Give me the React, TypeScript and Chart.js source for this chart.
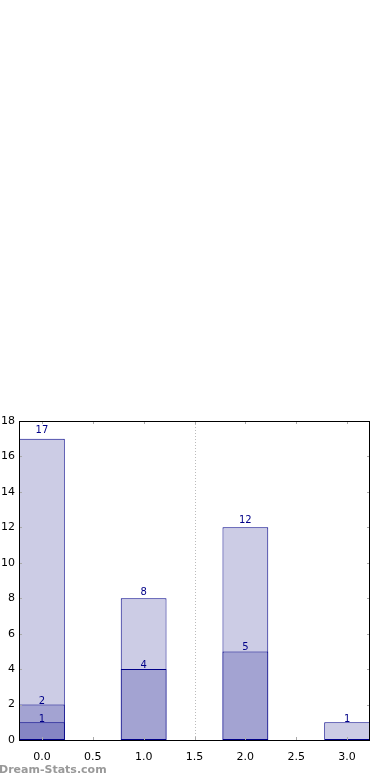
import React, { useEffect, useRef } from "react";
import { Chart, registerables } from "chart.js";

Chart.register(...registerables);

const categories = [0, 1, 2, 3];
const totalValues = [17, 8, 12, 1];
const midValues = [2, 4, 5, null];
const lowValues = [1, null, null, null];
const xTicks = [0, 0.5, 1, 1.5, 2, 2.5, 3];
const yTicks = [0, 2, 4, 6, 8, 10, 12, 14, 16, 18];
const dividerAt = 1.5;

const toPoints = (vals: (number | null)[]) =>
  categories
    .map((c, i) => ({ x: c, y: vals[i] }))
    .filter((p) => p.y !== null) as { x: number; y: number }[];

export default function App() {
  const ref = useRef<HTMLCanvasElement>(null);
  useEffect(() => {
    document.body.style.margin = "0";
    const edge = "#000088";
    const decor = {
      id: "decor",
      beforeDatasetsDraw(chart: any) {
        const { ctx, chartArea: a, scales } = chart;
        ctx.save();
        ctx.strokeStyle = "#bbbbbb";
        ctx.lineWidth = 1;
        ctx.setLineDash([1, 2]);
        const xd = Math.round(scales.x.getPixelForValue(dividerAt)) + 0.5;
        ctx.beginPath();
        ctx.moveTo(xd, a.top);
        ctx.lineTo(xd, a.bottom);
        ctx.stroke();
        ctx.restore();
      },
      afterDatasetsDraw(chart: any) {
        const { ctx, chartArea: a, scales } = chart;
        ctx.save();
        // labels
        ctx.fillStyle = edge;
        ctx.font = "10px 'DejaVu Sans'";
        ctx.textAlign = "center";
        ctx.textBaseline = "alphabetic";
        chart.data.datasets.forEach((ds: any) => {
          ds.data.forEach((p: any) => {
            const px = scales.x.getPixelForValue(p.x);
            const py = scales.y.getPixelForValue(p.y * 1.02);
            ctx.fillText(String(p.y), px, py);
          });
        });
        // ticks
        ctx.strokeStyle = "#aaaaaa";
        ctx.lineWidth = 1;
        ctx.beginPath();
        xTicks.forEach((t) => {
          const px = Math.round(scales.x.getPixelForValue(t)) + 0.5;
          ctx.moveTo(px, a.bottom);
          ctx.lineTo(px, a.bottom - 3);
          ctx.moveTo(px, a.top);
          ctx.lineTo(px, a.top + 3);
        });
        yTicks.forEach((t) => {
          const py = Math.round(scales.y.getPixelForValue(t)) + 0.5;
          ctx.moveTo(a.left, py);
          ctx.lineTo(a.left + 3, py);
          ctx.moveTo(a.right, py);
          ctx.lineTo(a.right - 3, py);
        });
        ctx.stroke();
        // frame
        ctx.strokeStyle = "#000000";
        ctx.strokeRect(
          Math.round(a.left) + 0.5,
          Math.round(a.top) + 0.5,
          Math.round(a.right - a.left) - 1,
          Math.round(a.bottom - a.top)
        );
        // watermark
        ctx.fillStyle = "#999999";
        ctx.font = "bold 11px 'DejaVu Sans'";
        ctx.textAlign = "left";
        ctx.textBaseline = "middle";
        ctx.fillText("Dream-Stats.com", -1, 770);
        ctx.restore();
      },
    };

    const common = {
      borderColor: edge,
      borderWidth: 1,
      borderSkipped: false,
      barPercentage: 0.9,
      categoryPercentage: 1,
      grouped: false,
    };

    const chart = new Chart(ref.current!, {
      type: "bar",
      data: {
        datasets: [
          { ...common, label: "low", data: toPoints(lowValues), backgroundColor: "#8585c4" },
          { ...common, label: "mid", data: toPoints(midValues), backgroundColor: "#a3a3d2" },
          { ...common, label: "total", data: toPoints(totalValues), backgroundColor: "#ccccE5" },
        ],
      } as any,
      options: {
        animation: false,
        responsive: false,
        layout: { padding: { top: 421, right: 20, left: 0, bottom: 0 } },
        plugins: { legend: { display: false }, tooltip: { enabled: false } },
        scales: {
          x: {
            type: "linear",
            min: -0.225,
            max: 3.225,
            offset: false,
            grid: { display: false, drawTicks: false },
            border: { display: false },
            afterBuildTicks: (s: any) => {
              s.ticks = xTicks.map((v) => ({ value: v }));
            },
            afterFit: (s: any) => {
              s.height = 40;
            },
            ticks: {
              padding: 11,
              color: "#000",
              font: { family: "DejaVu Sans", size: 11 },
              callback: (v: any) => Number(v).toFixed(1),
              maxRotation: 0,
              autoSkip: false,
            },
          },
          y: {
            min: 0,
            max: 18,
            grid: { display: false, drawTicks: false },
            border: { display: false },
            afterBuildTicks: (s: any) => {
              s.ticks = yTicks.map((v) => ({ value: v }));
            },
            afterFit: (s: any) => {
              s.width = 19;
            },
            ticks: {
              padding: 4,
              color: "#000",
              font: { family: "DejaVu Sans", size: 11 },
              autoSkip: false,
            },
          },
        },
      } as any,
      plugins: [decor],
    });
    return () => chart.destroy();
  }, []);
  return (
    <div style={{ position: "absolute", left: 0, top: 0, width: 390, height: 780 }}>
      <canvas ref={ref} width={390} height={780} style={{ width: 390, height: 780 }} />
    </div>
  );
}
